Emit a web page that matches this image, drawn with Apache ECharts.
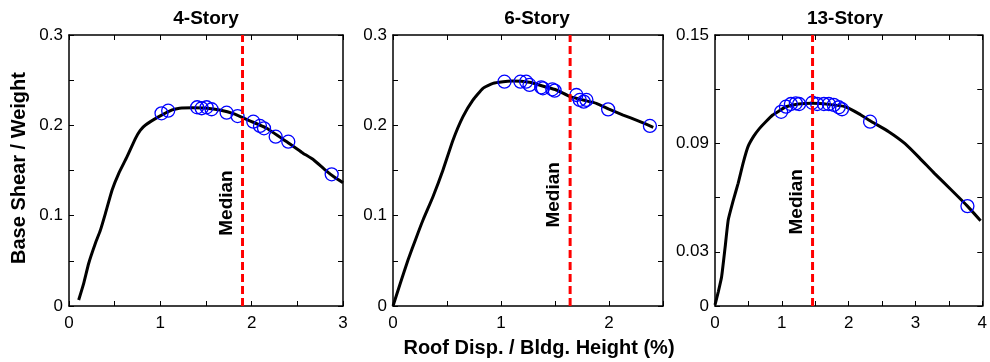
<!DOCTYPE html>
<html>
<head>
<meta charset="utf-8">
<script src="https://cdn.jsdelivr.net/npm/echarts@6/dist/echarts.min.js"></script>
<style>
  html, body { margin: 0; padding: 0; background: #fff; }
  #chart { width: 990px; height: 362px; }
</style>
</head>
<body>
<div id="chart"></div>
<script>
// Pushover curves: roof drift ratio (%) vs. base shear / weight
const story4CurveX = [0.106, 0.161, 0.216, 0.289, 0.344, 0.399, 0.472, 0.545, 0.636, 0.728, 0.78, 0.838, 0.984, 1.13, 1.21, 1.35, 1.51, 1.65, 1.80, 1.98, 2.16, 2.38, 2.55, 2.68, 2.80, 2.90, 3.00];
const story4CurveY = [0.0066, 0.0251, 0.0473, 0.0694, 0.084, 0.1026, 0.1284, 0.1469, 0.1653, 0.1856, 0.1945, 0.2004, 0.2096, 0.217, 0.219, 0.2195, 0.219, 0.217, 0.213, 0.205, 0.197, 0.182, 0.170, 0.1616, 0.151, 0.143, 0.1365];

const story6CurveX = [0, 0.07, 0.139, 0.21, 0.278, 0.370, 0.463, 0.556, 0.648, 0.741, 0.833, 0.926, 1.019, 1.10, 1.264, 1.40, 1.512, 1.642, 1.76, 1.883, 2.00, 2.131, 2.27, 2.41];
const story6CurveY = [0, 0.026, 0.0509, 0.074, 0.0952, 0.121, 0.1506, 0.1838, 0.2096, 0.2281, 0.2410, 0.2465, 0.2483, 0.249, 0.2476, 0.243, 0.2391, 0.2317, 0.228, 0.2244, 0.218, 0.2114, 0.205, 0.1978];

const story13CurveX = [0, 0.05, 0.099, 0.15, 0.198, 0.27, 0.346, 0.42, 0.494, 0.58, 0.667, 0.76, 0.864, 0.96, 1.062, 1.25, 1.457, 1.70, 1.951, 2.15, 2.346, 2.60, 2.84, 3.06, 3.284, 3.53, 3.778, 3.975];
const story13CurveY = [0.0006, 0.008, 0.0162, 0.032, 0.0476, 0.058, 0.0679, 0.079, 0.0882, 0.094, 0.0983, 0.102, 0.1057, 0.108, 0.1103, 0.1118, 0.1122, 0.1116, 0.1103, 0.1065, 0.1020, 0.0965, 0.0900, 0.0820, 0.0734, 0.0645, 0.0553, 0.0472];

// Individual ground-motion results (open circles)
const story4RunX = [1.013, 1.086, 1.403, 1.452, 1.507, 1.561, 1.726, 1.846, 2.018, 2.091, 2.135, 2.263, 2.401, 2.876];
const story4RunY = [0.2133, 0.2162, 0.2200, 0.2189, 0.2200, 0.2178, 0.2140, 0.2103, 0.2040, 0.1993, 0.1967, 0.1874, 0.1819, 0.1458];

const story6RunX = [1.032, 1.180, 1.233, 1.264, 1.372, 1.388, 1.475, 1.497, 1.698, 1.729, 1.766, 1.791, 1.992, 2.379];
const story6RunY = [0.2483, 0.2483, 0.2483, 0.2447, 0.2421, 0.2410, 0.2399, 0.2384, 0.2336, 0.2281, 0.2262, 0.2281, 0.2177, 0.1993];

const story13RunX = [0.99, 1.062, 1.136, 1.210, 1.259, 1.456, 1.530, 1.630, 1.704, 1.778, 1.852, 1.901, 2.321, 3.778];
const story13RunY = [0.1075, 0.1103, 0.1118, 0.1122, 0.1118, 0.1125, 0.1118, 0.1118, 0.1118, 0.1113, 0.1100, 0.1089, 0.1020, 0.0553];

// Median roof drift for each building
const medianDrift = [1.90, 1.64, 1.46];
// Height (in y units) where the "Median" caption sits
const medianLabelY = [0.114, 0.123, 0.0577];

const panelTitles = ['4-Story', '6-Story', '13-Story'];
const xMax = [3, 2.5, 4];
const yMax = [0.3, 0.3, 0.15];
const yStep = [0.05, 0.05, 0.03];
const yLabelled = [[0, 10, 20, 30], [0, 10, 20, 30], [0, 3, 9, 15]]; // hundredths

const curvesX = [story4CurveX, story6CurveX, story13CurveX];
const curvesY = [story4CurveY, story6CurveY, story13CurveY];
const runsX = [story4RunX, story6RunX, story13RunX];
const runsY = [story4RunY, story6RunY, story13RunY];

const FONT = '"Liberation Sans", Arial, Helvetica, sans-serif';
const grids = [
  { left: 69, top: 35, width: 274, height: 271 },
  { left: 393, top: 35, width: 270, height: 271 },
  { left: 715, top: 35, width: 270, height: 271 }
];
const titlePos = [206, 537, 845];

const zip = (xs, ys) => xs.map((x, i) => [x, ys[i]]);

const axisLine = { show: true, onZero: false, lineStyle: { color: '#000', width: 1.5 } };
const tick = { show: true, inside: true, length: 5, lineStyle: { color: '#000', width: 1 } };

const xAxes = [], yAxes = [], series = [];
grids.forEach((g, i) => {
  const xLabel = v => (Math.abs(v - Math.round(v)) < 1e-6 ? String(Math.round(v)) : '');
  const yLabel = v => {
    const h = Math.round(v * 100);
    if (!yLabelled[i].includes(h)) return '';
    return h === 0 ? '0' : String(+(h / 100).toFixed(2));
  };
  xAxes.push({
    gridIndex: i, type: 'value', position: 'bottom', min: 0, max: xMax[i], interval: 0.5,
    axisLine, axisTick: tick, splitLine: { show: false },
    axisLabel: { formatter: xLabel, color: '#000', fontSize: 17, fontFamily: FONT, margin: 9 }
  });
  xAxes.push({
    gridIndex: i, type: 'value', position: 'top', min: 0, max: xMax[i], interval: 0.5,
    axisLine, axisTick: tick, splitLine: { show: false }, axisLabel: { show: false }
  });
  yAxes.push({
    gridIndex: i, type: 'value', position: 'left', min: 0, max: yMax[i], interval: yStep[i],
    axisLine, axisTick: tick, splitLine: { show: false },
    axisLabel: { formatter: yLabel, color: '#000', fontSize: 17, fontFamily: FONT, margin: 6 }
  });
  yAxes.push({
    gridIndex: i, type: 'value', position: 'right', min: 0, max: yMax[i], interval: yStep[i],
    axisLine, axisTick: tick, splitLine: { show: false }, axisLabel: { show: false }
  });

  const xi = 2 * i, yi = 2 * i;
  series.push({
    type: 'line', xAxisIndex: xi, yAxisIndex: yi, data: zip(curvesX[i], curvesY[i]),
    showSymbol: false, smooth: 0.15, lineStyle: { color: '#000', width: 3 }, silent: true, z: 2
  });
  series.push({
    type: 'scatter', xAxisIndex: xi, yAxisIndex: yi, data: zip(runsX[i], runsY[i]),
    symbol: 'circle', symbolSize: 13,
    itemStyle: { color: 'rgba(0,0,0,0)', borderColor: '#0000ff', borderWidth: 1.3, opacity: 1 }, z: 3
  });
  series.push({
    type: 'line', xAxisIndex: xi, yAxisIndex: yi,
    data: [[medianDrift[i], 0], [medianDrift[i], yMax[i]]],
    showSymbol: false, lineStyle: { color: '#ff0000', width: 3, type: [8, 4] }, z: 4
  });
  series.push({
    type: 'scatter', xAxisIndex: xi, yAxisIndex: yi,
    data: [[medianDrift[i], medianLabelY[i]]], symbolSize: 0, z: 5,
    itemStyle: { opacity: 1 },
    label: {
      show: true, position: 'inside', formatter: 'Median', rotate: 90,
      offset: [0, -16], color: '#000', textBorderWidth: 0,
      fontWeight: 'bold', fontSize: 19, fontFamily: FONT
    }
  });
});

const graphic = [];
panelTitles.forEach((t, i) => {
  graphic.push({
    type: 'text', x: titlePos[i], y: 19,
    style: { text: t, font: 'bold 19px ' + FONT, fill: '#000', align: 'center', verticalAlign: 'middle' }
  });
});
graphic.push({
  type: 'text', x: 19, y: 168, rotation: Math.PI / 2,
  style: { text: 'Base Shear / Weight', font: 'bold 20px ' + FONT, fill: '#000', align: 'center', verticalAlign: 'middle' }
});
graphic.push({
  type: 'text', x: 539, y: 348,
  style: { text: 'Roof Disp. / Bldg. Height (%)', font: 'bold 20px ' + FONT, fill: '#000', align: 'center', verticalAlign: 'middle' }
});

const chart = echarts.init(document.getElementById('chart'), null, { renderer: 'canvas' });
chart.setOption({
  animation: false,
  backgroundColor: '#fff',
  grid: grids,
  xAxis: xAxes,
  yAxis: yAxes,
  series,
  graphic
});
</script>
</body>
</html>
